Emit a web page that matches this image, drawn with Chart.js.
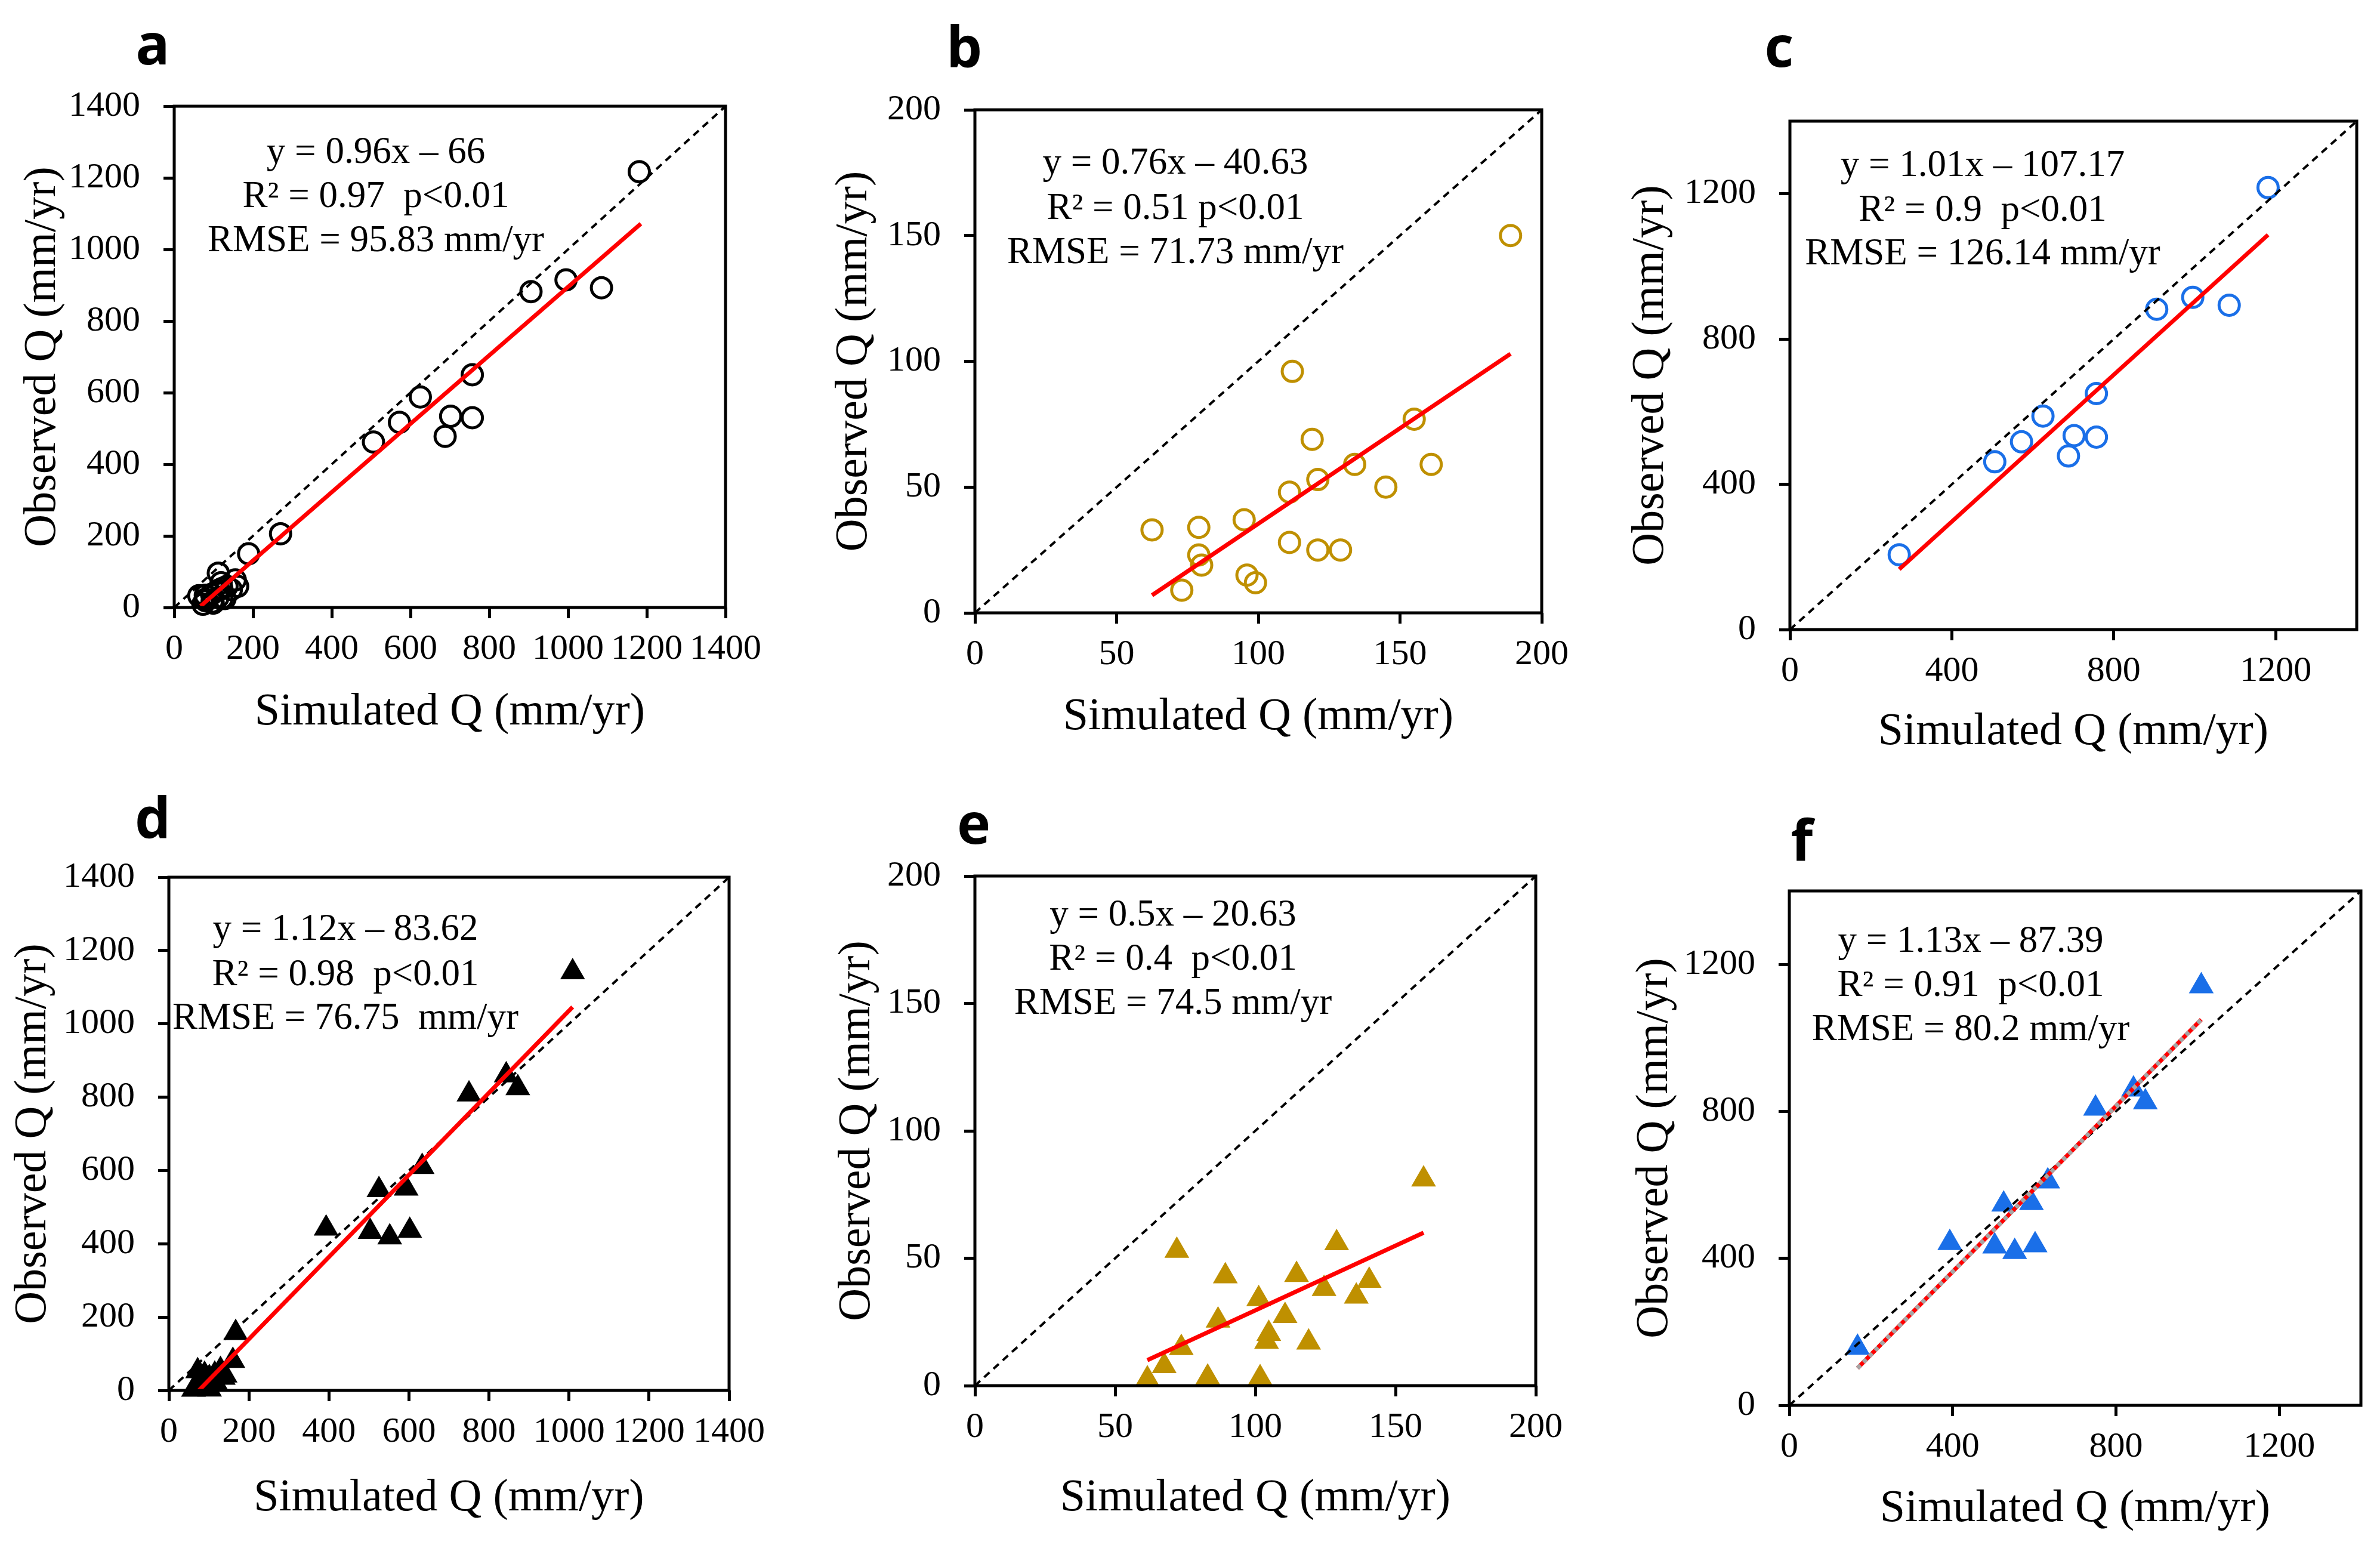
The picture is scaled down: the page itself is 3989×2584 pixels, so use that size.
<!DOCTYPE html>
<html><head><meta charset="utf-8">
<script src="https://cdn.jsdelivr.net/npm/chart.js@4.4.0/dist/chart.umd.min.js"></script>
<style>
html,body{margin:0;padding:0;background:#fff;}
#page{position:relative;width:3989px;height:2584px;background:#fff;overflow:hidden;}
canvas{position:absolute;}
</style></head><body><div id="page"></div>
<script>
// ---------- data ----------
const xTitle = 'Simulated Q (mm/yr)';
const yTitle = 'Observed Q (mm/yr)';
const ticksWide = [0, 200, 400, 600, 800, 1000, 1200, 1400];
const ticksLow  = [0, 50, 100, 150, 200];
const ticksHigh = [0, 400, 800, 1200];

// panel b: low-flow basins, circles
const bSim = [189, 112, 155, 119, 134, 161, 121, 145, 111, 95, 62.5, 79, 79, 80, 111, 121, 129, 96, 99, 73];
const bObs = [150, 96, 77, 69, 59, 59, 53, 50, 48, 37, 33, 34, 23, 19, 28, 25, 25, 15, 12, 9];
// panel c: high-flow basins, circles
const cSim = [1181, 906, 995, 1085, 757, 625, 572, 506, 702, 757, 688, 270];
const cObs = [1217, 882, 915, 893, 650, 588, 517, 462, 534, 530, 478, 206];
// panel e: low-flow basins, triangles
const eSim = [160, 72, 129, 89.3, 114.7, 140.6, 124.5, 136, 101.2, 86.7, 110.6, 104.8, 104, 119, 73.6, 67.5, 61.5, 83, 101.7];
const eObs = [81, 53, 56, 43, 43.5, 41.2, 38, 35, 34, 25.6, 27.4, 20.4, 17.3, 17, 14.8, 7.7, 2.5, 3.2, 3];
// panel f: high-flow basins, triangles
const fSim = [1009, 843, 872, 750, 633, 525, 593, 393, 503, 552, 602, 167];
const fObs = [1141, 860, 825, 808, 610, 547, 551, 442, 433, 418, 436, 157];
// panels a and d: all basins
const aSim = cSim.concat(bSim), aObs = cObs.concat(bObs);
const dSim = fSim.concat(eSim), dObs = fObs.concat(eObs);

// fitted regression line end points
const fitAX = [67, 1185],  fitAY = [4, 1072];
const fitBX = [62.5, 189], fitBY = [7, 103];
const fitCX = [270, 1181], fitCY = [166, 1087];
const fitDX = [75, 1009],  fitDY = [0, 1046];
const fitEX = [61.5, 160], fitEY = [10, 60];
const fitFX = [167, 1009], fitFY = [101, 1050];

// 1:1 line
const oneToOneWide = [0, 1400];
const oneToOneLow  = [0, 200];

const statsA = ['y = 0.96x \u2013 66', 'R\u00b2 = 0.97  p<0.01', 'RMSE = 95.83 mm/yr'];
const statsB = ['y = 0.76x \u2013 40.63', 'R\u00b2 = 0.51 p<0.01', 'RMSE = 71.73 mm/yr'];
const statsC = ['y = 1.01x \u2013 107.17', 'R\u00b2 = 0.9  p<0.01', 'RMSE = 126.14 mm/yr'];
const statsD = ['y = 1.12x \u2013 83.62', 'R\u00b2 = 0.98  p<0.01', 'RMSE = 76.75  mm/yr'];
const statsE = ['y = 0.5x \u2013 20.63', 'R\u00b2 = 0.4  p<0.01', 'RMSE = 74.5 mm/yr'];
const statsF = ['y = 1.13x \u2013 87.39', 'R\u00b2 = 0.91  p<0.01', 'RMSE = 80.2 mm/yr'];

// ---------- layout & style ----------
const SERIF = '"Times New Roman", "Liberation Serif", serif';
const GOLD = '#BF9000', BLUE = '#1A6FE8', RED = '#FF0000';
const panels = [
  {id:'a', L:292, R:1216, T:178, B:1018, yTitleX:72,   xTitleY:1194, letter:[256,108],  tx:630,  ty:[256,330,404],
   diag:oneToOneWide, ticks:ticksWide, sim:aSim, obs:aObs, fitX:fitAX, fitY:fitAY, stats:statsA, marker:'circle', color:'#000'},
  {id:'b', L:1634, R:2584, T:184, B:1027, yTitleX:1432, xTitleY:1202, letter:[1616,112], tx:1970, ty:[274,350,424],
   diag:oneToOneLow, ticks:ticksLow, sim:bSim, obs:bObs, fitX:fitBX, fitY:fitBY, stats:statsB, marker:'circle', color:GOLD},
  {id:'c', L:3000, R:3950, T:203, B:1055, yTitleX:2767, xTitleY:1227, letter:[2982,112], tx:3323, ty:[278,353,426],
   diag:oneToOneWide, ticks:ticksHigh, sim:cSim, obs:cObs, fitX:fitCX, fitY:fitCY, stats:statsC, marker:'circle', color:BLUE},
  {id:'d', L:283, R:1222, T:1470, B:2330, yTitleX:56,   xTitleY:2511, letter:[256,1404], tx:579,  ty:[1558,1634,1707],
   diag:oneToOneWide, ticks:ticksWide, sim:dSim, obs:dObs, fitX:fitDX, fitY:fitDY, stats:statsD, marker:'triangle', color:'#000'},
  {id:'e', L:1634, R:2574, T:1468, B:2322, yTitleX:1437, xTitleY:2511, letter:[1632,1414], tx:1966, ty:[1534,1608,1682],
   diag:oneToOneLow, ticks:ticksLow, sim:eSim, obs:eObs, fitX:fitEX, fitY:fitEY, stats:statsE, marker:'triangle', color:GOLD},
  {id:'f', L:2999, R:3957, T:1493, B:2355, yTitleX:2774, xTitleY:2529, letter:[3020,1442], tx:3303, ty:[1578,1652,1726],
   diag:oneToOneWide, ticks:ticksHigh, sim:fSim, obs:fObs, fitX:fitFX, fitY:fitFY, stats:statsF, marker:'triangle', color:BLUE, dottedFit:true}
];

const page = document.getElementById('page');
const TITLE_SIZE = 76, TICK_SIZE = 60;

function makePanel(p) {
  const half = TITLE_SIZE * 1.2 / 2;
  const cl = Math.round(p.yTitleX - half), cb = Math.round(p.xTitleY + half);
  const ct = p.T - 170, cr = Math.min(3989, p.R + 80);
  const W = cr - cl, H = cb - ct;
  const cv = document.createElement('canvas');
  cv.width = W; cv.height = H;
  cv.style.left = cl + 'px'; cv.style.top = ct + 'px';
  cv.style.width = W + 'px'; cv.style.height = H + 'px';
  page.appendChild(cv);

  const pts = p.sim.map((x, i) => ({x: x, y: p.obs[i]}));
  const fit = p.fitX.map((x, i) => ({x: x, y: p.fitY[i]}));
  const diag = p.diag.map(v => ({x: v, y: v}));
  const datasets = [];
  if (p.dottedFit) {
    datasets.push({data: fit, showLine: true, pointRadius: 0, borderColor: '#A6A6A6', borderWidth: 7,
                   borderDash: [7, 7], order: 0, clip: false});
  }
  datasets.push({data: fit, showLine: true, pointRadius: 0, borderColor: RED, borderWidth: 7, order: 1, clip: false});
  datasets.push({data: diag, showLine: true, pointRadius: 0, borderColor: '#000', borderWidth: 4,
                 borderDash: [12, 9], order: 2, clip: false});
  if (p.marker === 'circle') {
    datasets.push({data: pts, pointStyle: 'circle', pointRadius: 17, borderWidth: 5, borderColor: p.color,
                   backgroundColor: 'rgba(0,0,0,0)', order: 3, clip: false});
  } else {
    datasets.push({data: pts, pointStyle: 'triangle', pointRadius: 24, borderWidth: 0, borderColor: p.color,
                   backgroundColor: p.color, order: 3, clip: false});
  }

  function axis(which) {
    return {
      type: 'linear', min: 0, max: p.diag[1],
      afterBuildTicks: s => { s.ticks = p.ticks.map(v => ({value: v})); },
      afterFit: s => { if (which === 'x') s.height = cb - p.B; else s.width = p.L - cl; },
      grid: {display: true, drawOnChartArea: false, drawTicks: true, tickLength: 18, tickWidth: 5,
             tickColor: '#000', color: '#000', lineWidth: 5},
      border: {display: false},
      ticks: {autoSkip: false, maxRotation: 0, minRotation: 0, padding: which === 'x' ? 16 : 39,
              color: '#000', font: {family: SERIF, size: TICK_SIZE}, callback: v => String(v)},
      title: {display: true, text: which === 'x' ? xTitle : yTitle, color: '#000',
              font: {family: SERIF, size: TITLE_SIZE}, padding: 0}
    };
  }

  const panelPlugin = {
    id: 'panel' + p.id,
    afterDatasetsDraw(chart) {
      const {ctx, chartArea: a} = chart;
      ctx.save();
      ctx.strokeStyle = '#000'; ctx.lineWidth = 5;
      ctx.strokeRect(a.left, a.top, a.right - a.left, a.bottom - a.top);
      ctx.restore();
    },
    afterDraw(chart) {
      const ctx = chart.ctx;
      ctx.save();
      ctx.fillStyle = '#000';
      ctx.textAlign = 'center';
      ctx.textBaseline = 'alphabetic';
      ctx.font = 'bold 95px "Open Sans", "DejaVu Sans", sans-serif';
      ctx.fillText(p.id, p.letter[0] - cl, p.letter[1] - ct);
      ctx.font = '63px ' + SERIF;
      ctx.textBaseline = 'middle';
      p.stats.forEach((s, i) => ctx.fillText(s, p.tx - cl, p.ty[i] - ct));
      ctx.restore();
    }
  };

  new Chart(cv, {
    type: 'scatter',
    data: {datasets: datasets},
    options: {
      responsive: false, animation: false, devicePixelRatio: 1,
      layout: {padding: {left: 0, top: p.T - ct, right: cr - p.R, bottom: 0}},
      plugins: {legend: {display: false}, tooltip: {enabled: false}},
      scales: {x: axis('x'), y: axis('y')}
    },
    plugins: [panelPlugin]
  });
}
panels.forEach(makePanel);
</script>
</body></html>
